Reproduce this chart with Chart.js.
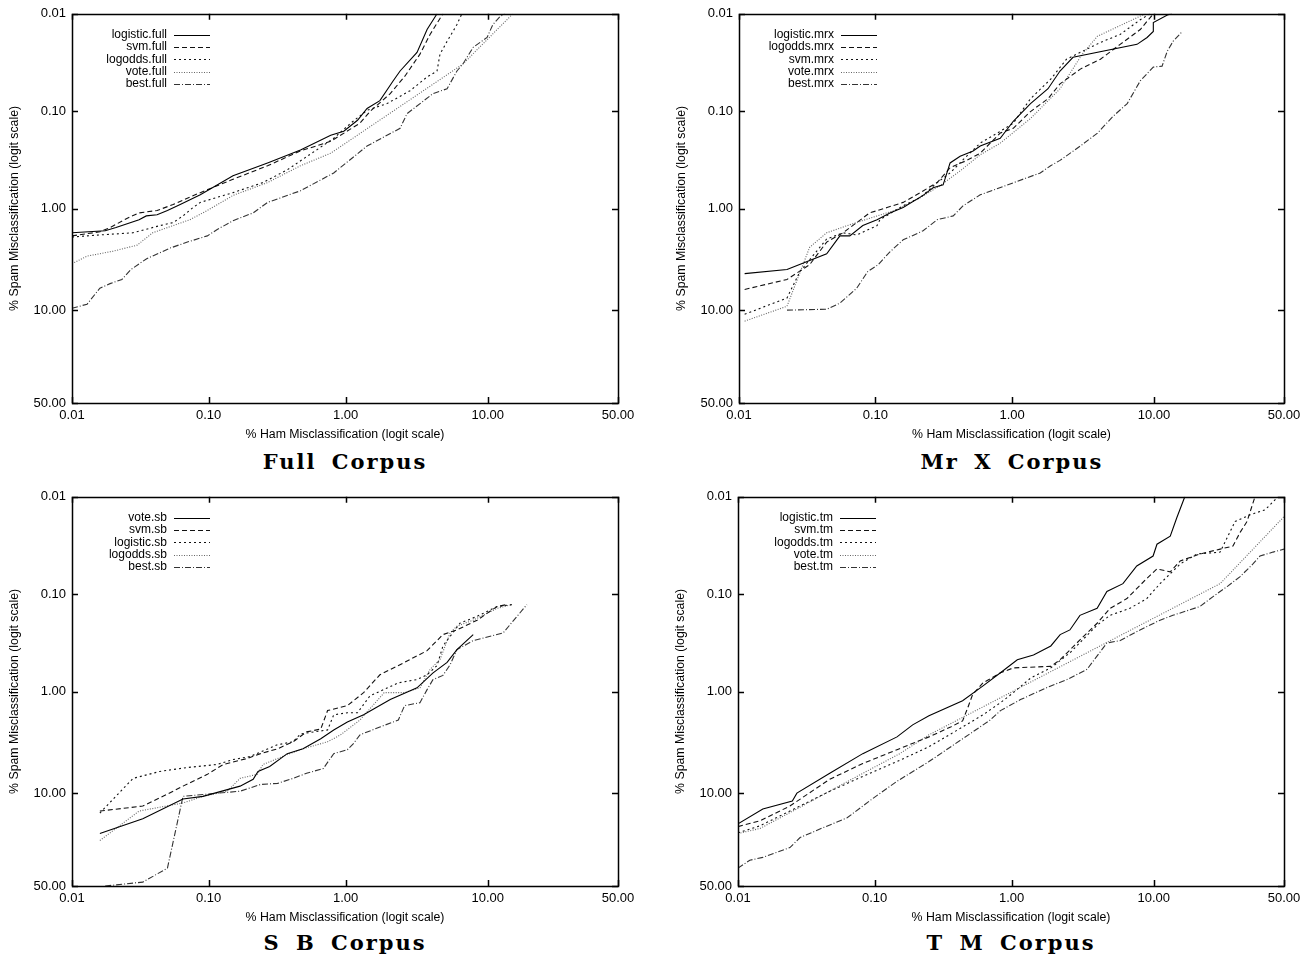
<!DOCTYPE html>
<html>
<head>
<meta charset="utf-8">
<title>Spam filter ROC curves</title>
<script src="https://cdn.jsdelivr.net/npm/chart.js@4.4.1/dist/chart.umd.min.js"></script>
<style>
  body { margin: 0; background: #fff; }
  #page { position: relative; width: 1313px; height: 956px; overflow: hidden; }
  canvas { position: absolute; }
  .caption {
    position: absolute; width: 500px; text-align: center;
    font: bold 21px "DejaVu Serif", serif; letter-spacing: 2px; word-spacing: 6px; color: #000;
  }
</style>
</head>
<body>
<div id="page">
  <canvas id="full" width="656" height="444" style="left:0;top:0"></canvas>
  <canvas id="mrx" width="646" height="444" style="left:667px;top:0"></canvas>
  <canvas id="sb" width="656" height="444" style="left:0;top:483px"></canvas>
  <canvas id="tm" width="646" height="444" style="left:666px;top:483px"></canvas>
  <div class="caption" style="left:95px;top:449px">Full Corpus</div>
  <div class="caption" style="left:762px;top:449px">Mr X Corpus</div>
  <div class="caption" style="left:95px;top:930px">S B Corpus</div>
  <div class="caption" style="left:761px;top:930px">T M Corpus</div>
</div>
<script>
// points are [% ham misclassified, % spam misclassified]
const tickValues = [0.01, 0.1, 1, 10, 50];

const fullLabels = ['logistic.full', 'svm.full', 'logodds.full', 'vote.full', 'best.full'];
const fullLogistic = [[0.01,1.75],[0.0175,1.67],[0.021,1.55],[0.031,1.29],[0.035,1.18],[0.042,1.15],[0.05,1.04],[0.062,0.905],[0.087,0.72],[0.151,0.46],[0.27,0.34],[0.47,0.25],[0.78,0.177],[0.97,0.161],[1.22,0.124],[1.43,0.094],[1.77,0.078],[2.2,0.049],[2.47,0.0387],[3.26,0.0249],[3.84,0.0145],[4.51,0.01]];
const fullSvm = [[0.01,1.88],[0.016,1.71],[0.019,1.55],[0.025,1.26],[0.031,1.1],[0.042,1.04],[0.055,0.905],[0.087,0.684],[0.151,0.5],[0.27,0.363],[0.47,0.256],[0.78,0.204],[1.27,0.133],[1.5,0.101],[2.1,0.066],[2.68,0.0435],[3.42,0.026],[4.03,0.0163],[4.96,0.01]];
const fullLogodds = [[0.01,1.93],[0.016,1.84],[0.028,1.75],[0.044,1.48],[0.055,1.38],[0.065,1.18],[0.077,0.97],[0.087,0.86],[0.151,0.684],[0.25,0.54],[0.376,0.4],[0.82,0.19],[1.09,0.133],[1.43,0.098],[1.99,0.0837],[2.91,0.0617],[3.84,0.0446],[4.51,0.0387],[4.73,0.026],[5.3,0.0192],[6.2,0.0129],[6.7,0.01]];
const fullVote = [[0.01,3.57],[0.0129,3.0],[0.02,2.68],[0.03,2.33],[0.039,1.75],[0.055,1.48],[0.073,1.29],[0.098,1.04],[0.151,0.73],[0.27,0.54],[0.47,0.363],[0.78,0.27],[6.8,0.0329],[14.5,0.01]];
const fullBest = [[0.01,9.6],[0.0129,8.8],[0.016,6.2],[0.019,5.6],[0.0232,5.1],[0.027,4.08],[0.035,3.2],[0.052,2.5],[0.07,2.17],[0.098,1.88],[0.115,1.63],[0.151,1.32],[0.212,1.1],[0.27,0.86],[0.47,0.655],[0.82,0.43],[1.43,0.228],[2.47,0.15],[2.77,0.106],[4.23,0.066],[5.3,0.0589],[6.2,0.0387],[6.8,0.0329],[8.0,0.0221],[9.9,0.0175],[10.8,0.0129],[12.0,0.0107],[12.9,0.01]];

const mrxLabels = ['logistic.mrx', 'logodds.mrx', 'svm.mrx', 'vote.mrx', 'best.mrx'];
const mrxLogistic = [[0.011,4.47],[0.0225,4.08],[0.044,2.85],[0.055,1.88],[0.065,1.88],[0.081,1.48],[0.103,1.29],[0.128,1.1],[0.16,0.97],[0.224,0.73],[0.265,0.61],[0.314,0.57],[0.353,0.34],[0.418,0.29],[0.52,0.256],[0.586,0.228],[0.82,0.19],[1.02,0.127],[1.36,0.0837],[1.82,0.0589],[2.22,0.0387],[2.75,0.028],[7.7,0.0206],[9.0,0.0175],[9.9,0.0152],[9.9,0.0123],[12.4,0.0102],[13.1,0.01]];
const mrxLogodds = [[0.011,6.37],[0.0225,5.1],[0.033,3.65],[0.044,2.17],[0.058,1.75],[0.073,1.38],[0.091,1.1],[0.122,0.97],[0.16,0.86],[0.213,0.684],[0.284,0.54],[0.353,0.38],[0.455,0.326],[0.586,0.27],[0.82,0.168],[1.02,0.15],[1.36,0.101],[1.82,0.0745],[2.22,0.0525],[3.1,0.037],[4.3,0.0293],[5.9,0.0206],[8.1,0.0145],[9.9,0.01]];
const mrxSvm = [[0.011,10.9],[0.0225,7.7],[0.028,4.27],[0.044,2.02],[0.058,1.75],[0.073,1.84],[0.103,1.48],[0.108,1.29],[0.16,0.93],[0.213,0.77],[0.284,0.54],[0.353,0.43],[0.455,0.3],[0.586,0.213],[0.82,0.161],[1.02,0.133],[1.36,0.0745],[1.91,0.0467],[2.47,0.0293],[3.1,0.0249],[4.3,0.0197],[5.9,0.0163],[8.1,0.0115],[9.4,0.01]];
const mrxVote = [[0.011,12.6],[0.0225,9.2],[0.033,2.45],[0.044,1.75],[0.065,1.45],[0.096,1.22],[0.144,1.02],[0.213,0.77],[0.298,0.58],[0.418,0.41],[0.586,0.28],[0.82,0.213],[1.36,0.119],[2.22,0.0589],[3.2,0.026],[4.1,0.017],[8.5,0.0102],[8.8,0.01]];
const mrxBest = [[0.0225,10.0],[0.044,9.8],[0.055,8.6],[0.073,6.2],[0.088,4.27],[0.105,3.65],[0.128,2.72],[0.16,2.06],[0.224,1.67],[0.284,1.29],[0.372,1.18],[0.44,0.93],[0.586,0.72],[1.6,0.43],[1.9,0.363],[2.22,0.32],[3.1,0.228],[4.1,0.168],[5.27,0.113],[6.6,0.0837],[8.1,0.0489],[9.9,0.0353],[11.3,0.0345],[12.2,0.0243],[13.3,0.0192],[15.2,0.0152]];

const sbLabels = ['vote.sb', 'svm.sb', 'logistic.sb', 'logodds.sb', 'best.sb'];
const sbVote = [[0.016,22.4],[0.033,16.9],[0.065,11.3],[0.091,10.7],[0.17,8.6],[0.212,7.4],[0.23,6.23],[0.28,5.59],[0.376,4.18],[0.49,3.74],[0.66,2.98],[0.82,2.43],[1.03,2.02],[1.35,1.71],[2.1,1.2],[3.26,0.91],[4.23,0.64],[5.3,0.5],[6.2,0.37],[8.0,0.26]];
const sbSvm = [[0.016,14.5],[0.033,13.1],[0.05,10.2],[0.065,8.6],[0.098,6.65],[0.128,5.34],[0.19,4.68],[0.24,4.18],[0.32,3.74],[0.415,3.19],[0.52,2.54],[0.66,2.38],[0.74,1.55],[1.03,1.38],[1.35,1.02],[1.77,0.67],[2.66,0.5],[3.84,0.38],[4.96,0.26],[6.2,0.233],[8.5,0.185],[11.5,0.134],[13.3,0.128]];
const sbLogistic = [[0.016,15.1],[0.028,7.26],[0.044,6.23],[0.07,5.71],[0.115,5.34],[0.151,4.78],[0.2,4.47],[0.32,3.41],[0.415,3.19],[0.47,2.66],[0.74,2.43],[0.82,1.71],[1.03,1.63],[1.22,1.63],[1.5,1.1],[2.4,0.81],[3.26,0.75],[3.84,0.67],[4.51,0.54],[4.96,0.34],[5.8,0.25],[6.5,0.199],[8.5,0.169],[11.5,0.134],[14.3,0.128]];
const sbLogodds = [[0.016,25.4],[0.031,14.5],[0.065,12.3],[0.091,10.7],[0.137,9.6],[0.17,7.26],[0.227,6.65],[0.25,5.34],[0.376,4.27],[0.49,3.74],[0.74,3.19],[0.92,2.72],[1.27,1.93],[1.9,1.02],[2.66,1.02],[3.42,0.91],[4.03,0.59],[4.73,0.47],[5.56,0.25],[6.2,0.213],[8.0,0.185],[11.5,0.14],[14.3,0.128]];
const sbBest = [[0.0175,50],[0.033,47.7],[0.05,39.6],[0.065,10.7],[0.098,10.2],[0.17,9.6],[0.24,8.3],[0.32,8.1],[0.415,7.26],[0.52,6.5],[0.69,5.83],[0.82,4.18],[1.03,3.82],[1.14,3.33],[1.27,2.72],[1.77,2.27],[2.4,1.93],[2.66,1.38],[3.42,1.29],[3.84,0.95],[4.23,0.75],[4.96,0.68],[5.56,0.53],[6.2,0.37],[8.0,0.3],[12.6,0.25],[15.4,0.169],[17.7,0.128]];

const tmLabels = ['logistic.tm', 'svm.tm', 'logodds.tm', 'vote.tm', 'best.tm'];
const tmLogistic = [[0.01,18.7],[0.0152,13.9],[0.025,11.8],[0.027,10.0],[0.047,6.5],[0.082,4.18],[0.146,2.85],[0.19,2.16],[0.25,1.75],[0.44,1.23],[0.62,0.87],[0.83,0.64],[1.1,0.47],[1.44,0.42],[1.92,0.34],[2.24,0.26],[2.63,0.233],[3.1,0.165],[4.1,0.14],[4.8,0.094],[6.2,0.078],[7.7,0.0513],[9.9,0.0406],[10.5,0.0307],[12.8,0.0254],[14.1,0.0163],[15.8,0.01]];
const tmSvm = [[0.01,19.7],[0.0145,17.6],[0.024,13.1],[0.047,7.4],[0.082,5.22],[0.146,3.82],[0.25,2.85],[0.36,2.27],[0.44,1.97],[0.48,1.45],[0.52,1.07],[0.62,0.81],[0.83,0.64],[1.03,0.57],[1.92,0.55],[2.24,0.47],[3.1,0.295],[4.1,0.199],[5.05,0.14],[6.6,0.111],[9.0,0.069],[10.5,0.055],[12.8,0.059],[14.8,0.0456],[19.5,0.0387],[25.4,0.0345],[29.7,0.0321],[32.3,0.0232],[34.9,0.0179],[38.0,0.01]];
const tmLogodds = [[0.01,22.1],[0.0145,19.4],[0.024,14.5],[0.047,9.6],[0.082,6.95],[0.146,5.0],[0.25,3.57],[0.44,2.27],[0.62,1.71],[0.83,1.29],[1.03,1.02],[1.38,0.72],[1.92,0.57],[2.63,0.4],[4.1,0.208],[5.05,0.165],[6.9,0.14],[9.0,0.111],[11.0,0.078],[14.8,0.049],[18.7,0.0387],[25.4,0.037],[30.5,0.0179],[36.1,0.0153],[42.1,0.0136],[47.5,0.01]];
const tmVote = [[0.01,22.4],[0.0145,20.4],[0.0285,13.4],[0.066,7.56],[0.153,4.18],[0.25,2.72],[0.83,1.15],[4.3,0.34],[25.4,0.078],[50,0.016]];
const tmBest = [[0.01,39.6],[0.0122,35.2],[0.0152,33.7],[0.024,28.7],[0.0285,24.1],[0.042,20.1],[0.063,16.6],[0.098,11.1],[0.146,7.74],[0.25,5.0],[0.44,2.98],[0.7,1.93],[0.83,1.55],[1.16,1.2],[1.92,0.87],[2.51,0.75],[3.48,0.59],[4.8,0.317],[5.9,0.3],[8.1,0.233],[11.0,0.185],[13.3,0.165],[19.5,0.134],[23.2,0.106],[27.7,0.0836],[32.3,0.066],[37.2,0.049],[40.0,0.0406],[45.4,0.037],[50,0.0345]];

// gnuplot-ish line types 1..5
const lineTypes = [
  { borderColor: '#000', borderDash: [] },
  { borderColor: '#111', borderDash: [5, 3] },
  { borderColor: '#111', borderDash: [2, 3] },
  { borderColor: '#666', borderDash: [1, 1.5] },
  { borderColor: '#333', borderDash: [6, 2, 1, 2] }
];

Chart.defaults.font.family = '"Liberation Sans", Arial, sans-serif';
Chart.defaults.color = '#000';

function logit(p) {
  return Math.log(p / (100 - p));
}

// percent axis laid out on logit(p)
class LogitScale extends Chart.Scale {
  determineDataLimits() {
    this.min = this.options.min;
    this.max = this.options.max;
  }
  buildTicks() {
    return tickValues.map(v => ({ value: v }));
  }
  getLabelForValue(value) {
    return value.toFixed(2);
  }
  configure() {
    super.configure();
    this._lo = logit(this.min);
    this._span = logit(this.max) - this._lo;
  }
  getPixelForValue(value) {
    return this.getPixelForDecimal((logit(value) - this._lo) / this._span);
  }
  getValueForPixel(pixel) {
    var l = this._lo + this.getDecimalForPixel(pixel) * this._span;
    return 100 / (1 + Math.exp(-l));
  }
}
LogitScale.id = 'logit';
LogitScale.defaults = {};
Chart.register(LogitScale);

// box, mirrored inward ticks and the key in the upper left corner
const frameAndKey = {
  id: 'frameAndKey',
  afterDraw(chart) {
    var ctx = chart.ctx;
    var a = chart.chartArea;
    var xs = chart.scales.x, ys = chart.scales.y;
    ctx.save();
    ctx.strokeStyle = '#000';
    ctx.lineWidth = 1.5;
    ctx.setLineDash([]);
    ctx.strokeRect(Math.round(a.left) + 0.5, Math.round(a.top) + 0.5, Math.round(a.right - a.left), Math.round(a.bottom - a.top));
    ctx.beginPath();
    for (const t of xs.ticks) {
      var px = Math.round(xs.getPixelForValue(t.value)) + 0.5;
      ctx.moveTo(px, a.bottom); ctx.lineTo(px, a.bottom - 6);
      ctx.moveTo(px, a.top); ctx.lineTo(px, a.top + 6);
    }
    for (const t of ys.ticks) {
      var py = Math.round(ys.getPixelForValue(t.value)) + 0.5;
      ctx.moveTo(a.left, py); ctx.lineTo(a.left + 6, py);
      ctx.moveTo(a.right, py); ctx.lineTo(a.right - 6, py);
    }
    ctx.stroke();

    ctx.font = '12px "Liberation Sans", Arial, sans-serif';
    ctx.fillStyle = '#000';
    ctx.textAlign = 'right';
    ctx.textBaseline = 'middle';
    ctx.lineWidth = 1.1;
    chart.data.datasets.forEach(function (ds, i) {
      var y = a.top + 21 + i * 12.3;
      ctx.fillText(ds.label, a.left + 95, y);
      ctx.strokeStyle = ds.borderColor;
      ctx.setLineDash(ds.borderDash);
      ctx.beginPath();
      ctx.moveTo(a.left + 102, Math.round(y) + 0.5);
      ctx.lineTo(a.left + 138, Math.round(y) + 0.5);
      ctx.stroke();
    });
    ctx.restore();
  }
};

function ShowPanel(canvasId, labels, series, padRight) {
  var chart = document.getElementById(canvasId).getContext('2d');
  var datasets = [];
  for (let i = 0; i < series.length; i++) {
    datasets.push({
      label: labels[i],
      data: series[i].map(p => ({ x: p[0], y: p[1] })),
      showLine: true,
      pointRadius: 0,
      borderWidth: 1.1,
      borderColor: lineTypes[i].borderColor,
      borderDash: lineTypes[i].borderDash,
      tension: 0
    });
  }
  var axisFont = { family: '"Liberation Sans", Arial, sans-serif', size: 13 };
  var titleFont = { family: '"Liberation Sans", Arial, sans-serif', size: 12.3 };
  new Chart(chart, {
    type: 'scatter',
    data: { datasets: datasets },
    options: {
      responsive: false,
      animation: false,
      events: [],
      layout: { padding: { top: 9, right: padRight, left: 0, bottom: 0 } },
      plugins: { legend: { display: false }, tooltip: { enabled: false } },
      scales: {
        x: {
          type: 'logit', position: 'bottom', min: 0.01, max: 50,
          grid: { display: false, drawTicks: false },
          border: { display: false },
          ticks: { autoSkip: false, maxRotation: 0, padding: 5, font: axisFont, color: '#000', callback: v => v.toFixed(2) },
          title: { display: true, text: '% Ham Misclassification (logit scale)', font: titleFont, color: '#000', padding: { top: 0, bottom: 2 } },
          afterFit: s => { s.height = 41; }
        },
        y: {
          type: 'logit', position: 'left', reverse: true, min: 0.01, max: 50,
          grid: { display: false, drawTicks: false },
          border: { display: false },
          ticks: { autoSkip: false, padding: 6, font: axisFont, color: '#000', callback: v => v.toFixed(2) },
          title: { display: true, text: '% Spam Misclassification (logit scale)', font: titleFont, color: '#000', padding: { top: 7.6, bottom: 0 } },
          afterFit: s => { s.width = 72; }
        }
      }
    },
    plugins: [frameAndKey]
  });
}

ShowPanel('full', fullLabels, [fullLogistic, fullSvm, fullLogodds, fullVote, fullBest], 38);
ShowPanel('mrx', mrxLabels, [mrxLogistic, mrxLogodds, mrxSvm, mrxVote, mrxBest], 29);
ShowPanel('sb', sbLabels, [sbVote, sbSvm, sbLogistic, sbLogodds, sbBest], 38);
ShowPanel('tm', tmLabels, [tmLogistic, tmSvm, tmLogodds, tmVote, tmBest], 28);
</script>
</body>
</html>
